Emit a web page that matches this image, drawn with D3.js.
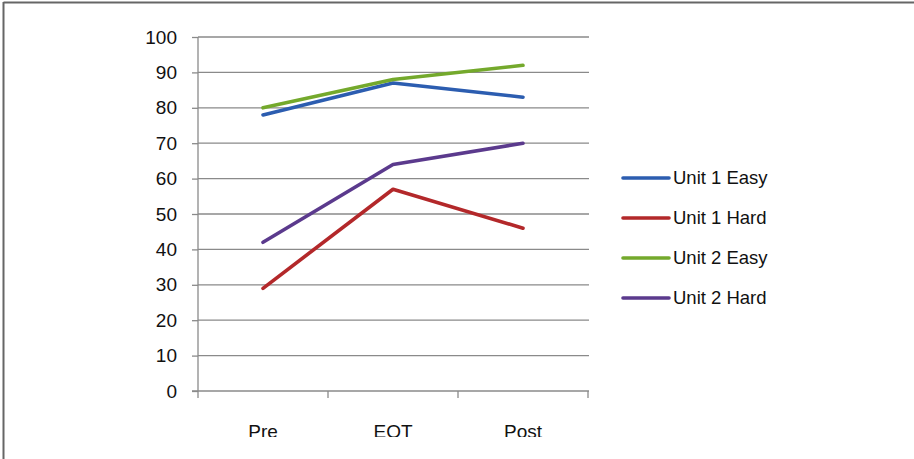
<!DOCTYPE html>
<html><head><meta charset="utf-8">
<script src="https://cdn.jsdelivr.net/npm/d3@7"></script>
<style>html,body{margin:0;padding:0;background:#fff;}svg{display:block;}</style>
</head><body>
<script>
const categories = ["Pre", "EOT", "Post"];
const seriesNames = ["Unit 1 Easy", "Unit 1 Hard", "Unit 2 Easy", "Unit 2 Hard"];
const unit1Easy = [78, 87, 83];
const unit1Hard = [29, 57, 46];
const unit2Easy = [80, 88, 92];
const unit2Hard = [42, 64, 70];
const yTicks = [0, 10, 20, 30, 40, 50, 60, 70, 80, 90, 100];
const colors = ["#2C5DB0", "#B3282A", "#74A92C", "#5B3A8D"];

const series = [unit1Easy, unit1Hard, unit2Easy, unit2Hard].map((v, i) => ({name: seriesNames[i], values: v, color: colors[i]}));

const W = 914, H = 459;
const svg = d3.select("body").append("svg").attr("width", W).attr("height", H);
const font = "'Liberation Sans', Arial, sans-serif";

// frame
svg.append("line").attr("x1", 3.5).attr("x2", W).attr("y1", 2.5).attr("y2", 2.5).attr("stroke", "#666").attr("stroke-width", 2);
svg.append("line").attr("x1", 3.5).attr("x2", 3.5).attr("y1", 2).attr("y2", H).attr("stroke", "#666").attr("stroke-width", 2);

svg.append("clipPath").attr("id", "clip").append("rect").attr("x", 0).attr("y", 0).attr("width", W).attr("height", 437);

const x = d3.scaleBand().domain(categories).range([198, 588]).paddingInner(0).paddingOuter(0);
const y = d3.scaleLinear().domain([0, 100]).range([391, 37]);

const g = svg.append("g").attr("clip-path", "url(#clip)");

// gridlines
g.selectAll(".grid").data(yTicks.filter(d => d > 0)).join("line")
  .attr("x1", 198).attr("x2", 589).attr("y1", d => y(d)).attr("y2", d => y(d))
  .attr("stroke", "#8a8a8a").attr("stroke-width", 1.3);

// y axis
const yAxis = g.append("g").attr("transform", "translate(198,0)")
  .call(d3.axisLeft(y).tickValues(yTicks).tickSize(6).tickPadding(8).tickFormat(d3.format("d")));
yAxis.select(".domain").attr("stroke", "#8a8a8a").attr("stroke-width", 1.3).attr("d", `M0,${y(100)}V${y(0)}`);
yAxis.selectAll(".tick line").attr("stroke", "#8a8a8a").attr("stroke-width", 1.3);
yAxis.selectAll("text").attr("font-family", font).attr("font-size", 19).attr("fill", "#111").attr("dx", -7);

// x axis
const xAxis = g.append("g").attr("transform", `translate(0,${y(0)})`)
  .call(d3.axisBottom(x).tickSize(0).tickPadding(34));
xAxis.select(".domain").attr("stroke", "#8a8a8a").attr("stroke-width", 1.3).attr("d", `M192,0H589`);
xAxis.selectAll("text").attr("font-family", font).attr("font-size", 19).attr("fill", "#111");
xAxis.selectAll(".xb").data(categories.map(c => x(c)).concat([x(categories[2]) + x.bandwidth()])).join("line")
  .attr("x1", d => d).attr("x2", d => d).attr("y1", 0).attr("y2", 7)
  .attr("stroke", "#8a8a8a").attr("stroke-width", 1.3);

// lines
const line = d3.line().x((d, i) => x(categories[i]) + x.bandwidth() / 2).y(d => y(d));
g.selectAll(".series").data(series).join("path")
  .attr("d", d => line(d.values)).attr("fill", "none")
  .attr("stroke", d => d.color).attr("stroke-width", 3.6)
  .attr("stroke-linejoin", "round").attr("stroke-linecap", "round");

// legend
const leg = svg.append("g").selectAll("g").data(series).join("g")
  .attr("transform", (d, i) => `translate(623,${178 + i * 40})`);
leg.append("line").attr("x1", 0).attr("x2", 46).attr("y1", 0).attr("y2", 0)
  .attr("stroke", d => d.color).attr("stroke-width", 3.6).attr("stroke-linecap", "round");
leg.append("text").attr("x", 50).attr("y", 0).attr("dy", "0.35em")
  .attr("font-family", font).attr("font-size", 18.5).attr("fill", "#111").text(d => d.name);
</script>
</body></html>
